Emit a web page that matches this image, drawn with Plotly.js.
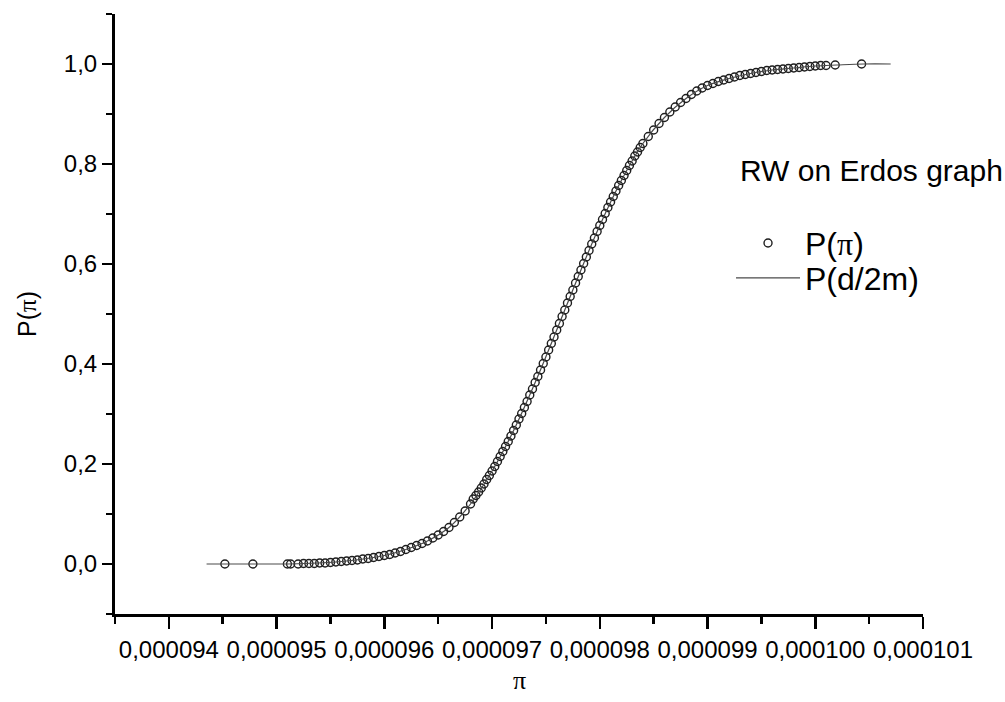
<!DOCTYPE html>
<html>
<head>
<meta charset="utf-8">
<script src="https://cdn.plot.ly/plotly-3.0.1.min.js"></script>
<style>
html,body{margin:0;padding:0;background:#fff;}
#chart{width:1005px;height:702px;}
</style>
</head>
<body>
<div id="chart"></div>
<script>
// x values in units of 1e-6, y = cumulative probability
var circleX = [
94.52, 94.78, 95.10, 95.13,
95.20, 95.25, 95.30, 95.35, 95.40, 95.45, 95.50, 95.55, 95.60, 95.65, 95.70, 95.75,
95.80, 95.85, 95.90, 95.95, 96.00, 96.05, 96.10, 96.15, 96.20, 96.25, 96.30, 96.35,
96.40, 96.45, 96.50, 96.55, 96.60, 96.65, 96.70, 96.75,
96.800, 96.825, 96.850, 96.875, 96.900, 96.925, 96.950, 96.975,
97.000, 97.025, 97.050, 97.075, 97.100, 97.125, 97.150, 97.175,
97.200, 97.225, 97.250, 97.275, 97.300, 97.325, 97.350, 97.375,
97.400, 97.425, 97.450, 97.475, 97.500, 97.525, 97.550, 97.575,
97.600, 97.625, 97.650, 97.675, 97.700, 97.725, 97.750, 97.775,
97.800, 97.825, 97.850, 97.875, 97.900, 97.925, 97.950, 97.975,
98.000, 98.025, 98.050, 98.075, 98.100, 98.125, 98.150, 98.175,
98.200, 98.225, 98.250, 98.275, 98.300, 98.325, 98.350, 98.375, 98.400,
98.45, 98.50, 98.55, 98.60, 98.65, 98.70, 98.75, 98.80, 98.85, 98.90, 98.95,
99.00, 99.05, 99.10, 99.15, 99.20, 99.25, 99.30, 99.35, 99.40, 99.45, 99.50,
99.55, 99.60, 99.65, 99.70, 99.75, 99.80, 99.85, 99.90, 99.95, 100.00, 100.05, 100.10,
100.185, 100.43
];
var circleY = [
0.000, 0.000, 0.000, 0.000,
0.000, 0.001, 0.001, 0.001, 0.002, 0.002, 0.003, 0.004, 0.005, 0.006, 0.007, 0.008,
0.010, 0.011, 0.013, 0.015, 0.017, 0.019, 0.022, 0.025, 0.029, 0.033, 0.037, 0.041,
0.046, 0.052, 0.058, 0.065, 0.073, 0.083, 0.094, 0.106,
0.120, 0.130, 0.137, 0.144, 0.152, 0.160, 0.169, 0.177,
0.186, 0.195, 0.205, 0.215, 0.225, 0.235, 0.245, 0.256,
0.267, 0.278, 0.290, 0.301, 0.313, 0.325, 0.338, 0.350,
0.363, 0.375, 0.388, 0.401, 0.414, 0.428, 0.441, 0.454,
0.468, 0.481, 0.495, 0.508, 0.522, 0.535, 0.548, 0.562,
0.575, 0.588, 0.601, 0.614, 0.627, 0.640, 0.652, 0.665,
0.677, 0.689, 0.701, 0.713, 0.724, 0.735, 0.746, 0.757,
0.767, 0.777, 0.787, 0.797, 0.806, 0.816, 0.824, 0.833, 0.841,
0.855, 0.868, 0.881, 0.893, 0.904, 0.914, 0.923, 0.931, 0.939, 0.946, 0.952,
0.957, 0.961, 0.965, 0.968, 0.971, 0.974, 0.977, 0.979, 0.981, 0.983, 0.985,
0.987, 0.988, 0.989, 0.990, 0.991, 0.992, 0.993, 0.994, 0.995, 0.996, 0.997, 0.997,
0.998, 1.000
];
var lineX = [94.35, 94.80, 95.20, 95.60, 96.00, 96.20, 96.40, 96.60, 96.80, 97.00, 97.20, 97.40,
  97.60, 97.80, 98.00, 98.20, 98.40, 98.60, 98.80, 99.00, 99.20, 99.40, 99.60, 99.80,
  100.00, 100.20, 100.45, 100.70];
var lineY = [0.000, 0.000, 0.0005, 0.005, 0.017, 0.029, 0.046, 0.073, 0.120, 0.186, 0.267, 0.363,
  0.468, 0.575, 0.677, 0.767, 0.841, 0.893, 0.931, 0.957, 0.971, 0.981, 0.988, 0.992,
  0.996, 0.998, 1.000, 1.000];

var legendTitle = 'RW on Erdos graph';
var name1 = 'P(<span style="font-family:\'Liberation Serif\'">π</span>)';
var name2 = 'P(d/2m)';
var yTitle = 'P(<span style="font-family:\'Liberation Serif\'">π</span>)';
var xTitle = 'π';

var scale = 1e-6;
function toSI(a){ return a.map(function(v){ return v*scale; }); }

var sans = 'Liberation Sans, Arial, sans-serif';

var traces = [
  {
    x: toSI(circleX), y: circleY, type: 'scatter', mode: 'markers', name: name1,
    legend: 'legend',
    marker: {symbol: 'circle-open', size: 8, color: '#1e1e1e', line: {width: 1.4, color: '#1e1e1e'}}
  },
  {
    x: toSI(lineX), y: lineY, type: 'scatter', mode: 'lines', name: name2,
    legend: 'legend2',
    line: {color: '#4a4a4a', width: 1.2, shape: 'spline'}
  }
];

var legendCommon = {
  xanchor: 'left', yanchor: 'middle',
  bgcolor: 'rgba(0,0,0,0)', borderwidth: 0,
  font: {family: sans, size: 32, color: '#000'},
  itemwidth: 64
};

var layout = {
  width: 1005, height: 702,
  margin: {l: 115, r: 82, t: 14, b: 88},
  paper_bgcolor: '#ffffff', plot_bgcolor: '#ffffff',
  separators: ', ',
  font: {family: sans, color: '#000', size: 24},
  showlegend: true,
  legend: Object.assign({x: 0.7624, y: 0.618}, legendCommon),
  legend2: Object.assign({x: 0.7624, y: 0.56}, legendCommon),
  xaxis: {
    range: [93.5e-6, 101e-6], autorange: false,
    tick0: 94e-6, dtick: 1e-6, tickformat: '.6f',
    showgrid: false, zeroline: false,
    showline: true, linecolor: '#000', linewidth: 3,
    ticks: 'outside', ticklen: 12, tickwidth: 2.5, tickcolor: '#000',
    minor: {dtick: 0.5e-6, tick0: 93.5e-6, ticks: 'outside', ticklen: 7, tickwidth: 2.5, tickcolor: '#000', showgrid: false},
    tickfont: {family: sans, size: 24, color: '#000'}
  },
  yaxis: {
    range: [-0.1, 1.1], autorange: false,
    tick0: 0, dtick: 0.2, tickformat: '.1f',
    showgrid: false, zeroline: false,
    showline: true, linecolor: '#000', linewidth: 3,
    ticks: 'outside', ticklen: 10, tickwidth: 2.5, tickcolor: '#000',
    minor: {dtick: 0.1, tick0: -0.1, ticks: 'outside', ticklen: 6, tickwidth: 2.5, tickcolor: '#000', showgrid: false},
    tickfont: {family: sans, size: 24, color: '#000'},
    title: {text: yTitle, font: {family: sans, size: 25, color: '#000'}, standoff: 21}
  },
  annotations: [
    {text: legendTitle, xref: 'paper', yref: 'paper', x: 0.771, y: 0.74,
     xanchor: 'left', yanchor: 'middle', showarrow: false,
     font: {family: sans, size: 30, color: '#000'}},
    {text: xTitle, xref: 'paper', yref: 'paper', x: 0.5, y: -0.11,
     xanchor: 'center', yanchor: 'middle', showarrow: false,
     font: {family: 'Liberation Serif, serif', size: 26, color: '#000'}}
  ]
};

Plotly.newPlot('chart', traces, layout, {displayModeBar: false, staticPlot: true});
</script>
</body>
</html>
